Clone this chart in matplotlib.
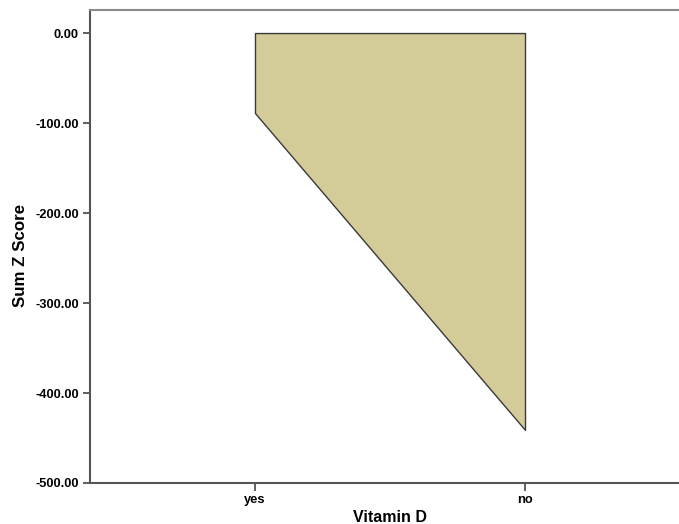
import numpy as np
import matplotlib.pyplot as plt

plt.rcParams['font.family'] = ['Liberation Sans', 'DejaVu Sans']

# area chart data
categories = ['yes', 'no']
sum_z = [-88.9, -441.0]

fig = plt.figure(figsize=(6.79, 5.24), dpi=100)
# axes in pixels: left 90, right ~690 (cut off), top 10, bottom 483
ax = fig.add_axes([90 / 679, 41 / 524, 600 / 679, 473 / 524])

x = np.arange(len(categories))
ax.fill_between(x, 0, sum_z, facecolor='#d3cc98', edgecolor='#3a3a3a', linewidth=1.0)

ax.set_xlim(-0.611, 1.611)
ax.set_ylim(-500, 25.6)
ax.set_yticks([0, -100, -200, -300, -400, -500])
ax.set_yticklabels([f'{v:.2f}' for v in [0, -100, -200, -300, -400, -500]])
ax.set_xticks(x)
ax.set_xticklabels(categories)

for lab in ax.get_xticklabels() + ax.get_yticklabels():
    lab.set_fontweight('bold')
    lab.set_fontsize(9.3)
ax.tick_params(axis='y', length=5, width=1.2, color='#444444', pad=3)
ax.tick_params(axis='x', length=6, width=1.2, color='#444444', pad=2)

ax.spines['left'].set_color('#555555')
ax.spines['left'].set_linewidth(1.5)
ax.spines['bottom'].set_color('#555555')
ax.spines['bottom'].set_linewidth(1.5)
ax.spines['top'].set_color('#8a8a8a')
ax.spines['top'].set_linewidth(1.5)
ax.spines['right'].set_visible(False)

ax.set_xlabel('Vitamin D', fontsize=11.5, fontweight='bold', labelpad=3)
ax.set_ylabel('Sum Z Score', fontsize=12.2, fontweight='bold', labelpad=5)
ax.yaxis.label.set_y(0.482)

fig.savefig('out.png', dpi=100)
